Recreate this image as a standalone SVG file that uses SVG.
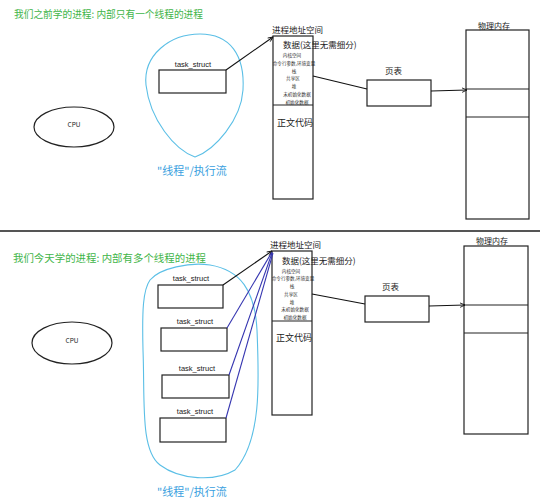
<svg xmlns="http://www.w3.org/2000/svg" width="540" height="500" viewBox="0 0 540 500">
<defs>
<style>
.box{fill:#fff;stroke:#222;stroke-width:1.2}
.ln{fill:none;stroke:#111;stroke-width:1.1}
.bl{fill:none;stroke:#3535b0;stroke-width:1.1}
.blob{fill:none;stroke:#5bbfe6;stroke-width:1.1}
.t{font-family:"Noto Sans CJK SC","Liberation Sans",sans-serif;fill:#222}
.title{font-family:"Noto Sans CJK SC",sans-serif;font-size:10.2px;fill:#3fb549}
.th{font-family:"Noto Sans CJK SC",sans-serif;font-size:11px;fill:#3a9fe0}
.ts{font-family:"Liberation Sans","Noto Sans CJK SC",sans-serif;font-size:7.5px;fill:#222;text-anchor:middle}
.sm{font-family:"Noto Sans CJK SC",sans-serif;font-size:4.6px;fill:#333;text-anchor:middle}
</style>
<marker id="ah" viewBox="0 0 10 10" refX="10" refY="5" markerWidth="5.5" markerHeight="5.5" orient="auto" markerUnits="userSpaceOnUse">
<polyline points="1,1 10,5 1,9" fill="none" stroke="#111" stroke-width="1.6"/>
</marker>
</defs>
<rect width="540" height="500" fill="#fff"/>

<!-- Top half -->
<g id="top-title"><text class="title" x="14" y="18" textLength="189" lengthAdjust="spacingAndGlyphs">我们之前学的进程: 内部只有一个线程的进程</text></g>
<g id="top-cpu"><ellipse cx="74" cy="127" rx="40" ry="20" fill="none" stroke="#222" stroke-width="1.2"/><text class="t" x="74" y="127" font-size="6.5" text-anchor="middle">CPU</text></g>
<g id="top-thread">
<path class="blob" d="M 200 34 C 230 34 245 55 243 90 C 241 120 215 150 195 157 C 175 150 150 120 146 85 C 143 55 170 34 200 34 Z"/>
<text class="th" x="157" y="175">"线程"/执行流</text>
</g>
<g id="top-task"><rect class="box" x="159" y="70" width="67" height="23"/><text class="ts" x="193" y="67">task_struct</text></g>
<g id="top-as">
<text class="t" x="272" y="33" font-size="8.5">进程地址空间</text>
<rect class="box" x="273" y="36" width="40" height="163"/>
<line x1="273" y1="105" x2="313" y2="105" stroke="#222" stroke-width="1.2"/>
<text class="t" x="283" y="48" font-size="8.5">数据(这里无需细分)</text>
<text class="sm" x="292" y="57">内核空间</text>
<text class="sm" x="294" y="65">命令行参数,环境变量</text>
<text class="sm" x="294" y="73">栈</text>
<text class="sm" x="293" y="80">共享区</text>
<text class="sm" x="294" y="88">堆</text>
<text class="sm" x="297" y="96">未初始化数据</text>
<text class="sm" x="297" y="104">初始化数据</text>
<text class="t" x="277" y="126" font-size="9">正文代码</text>
</g>
<g id="top-pt"><rect class="box" x="367" y="80" width="64" height="26"/><text class="t" x="385" y="74" font-size="8.5">页表</text></g>
<g id="top-mem">
<rect class="box" x="466" y="30" width="63" height="189"/>
<line x1="466" y1="89" x2="529" y2="89" stroke="#222" stroke-width="1.2"/>
<line x1="466" y1="117" x2="529" y2="117" stroke="#222" stroke-width="1.2"/>
<text class="t" x="478" y="29" font-size="8">物理内存</text>
</g>

<g id="separator"><line x1="0" y1="231" x2="540" y2="231" stroke="#555" stroke-width="2"/></g>

<!-- Bottom half -->
<g id="bot-title"><text class="title" x="13" y="262" textLength="193" lengthAdjust="spacingAndGlyphs">我们今天学的进程: 内部有多个线程的进程</text></g>
<g id="bot-cpu"><ellipse cx="72" cy="343" rx="40" ry="21" fill="none" stroke="#222" stroke-width="1.2"/><text class="t" x="72" y="343" font-size="6.5" text-anchor="middle">CPU</text></g>
<g id="bot-thread">
<path class="blob" d="M 150 280 C 160 268 190 262 210 265 C 240 270 255 290 257 330 C 259 380 262 440 235 470 C 215 482 180 480 160 465 C 140 450 145 400 143 350 C 142 310 143 290 150 280 Z"/>
<text class="th" x="157" y="496">"线程"/执行流</text>
</g>
<g id="bot-task1"><rect class="box" x="158" y="285" width="65" height="23"/><text class="ts" x="191" y="281">task_struct</text></g>
<g id="bot-task2"><rect class="box" x="161" y="328" width="66" height="23"/><text class="ts" x="195" y="324">task_struct</text></g>
<g id="bot-task3"><rect class="box" x="162" y="375" width="67" height="23"/><text class="ts" x="197" y="371">task_struct</text></g>
<g id="bot-task4"><rect class="box" x="160" y="418" width="66" height="24"/><text class="ts" x="195" y="414">task_struct</text></g>
<g id="bot-as">
<text class="t" x="270" y="248" font-size="8.5">进程地址空间</text>
<rect class="box" x="272" y="251" width="40" height="164"/>
<line x1="272" y1="321" x2="312" y2="321" stroke="#222" stroke-width="1.2"/>
<text class="t" x="282" y="264" font-size="8.5">数据(这里无需细分)</text>
<text class="sm" x="291" y="273">内核空间</text>
<text class="sm" x="293" y="280">命令行参数,环境变量</text>
<text class="sm" x="292" y="288">栈</text>
<text class="sm" x="291" y="296">共享区</text>
<text class="sm" x="292" y="304">堆</text>
<text class="sm" x="295" y="311">未初始化数据</text>
<text class="sm" x="295" y="319">初始化数据</text>
<text class="t" x="276" y="341" font-size="9">正文代码</text>
</g>
<g id="bot-pt"><rect class="box" x="365" y="296" width="64" height="26"/><text class="t" x="382" y="290" font-size="8.5">页表</text></g>
<g id="bot-mem">
<rect class="box" x="464" y="246" width="64" height="188"/>
<line x1="464" y1="305" x2="528" y2="305" stroke="#222" stroke-width="1.2"/>
<line x1="464" y1="333" x2="528" y2="333" stroke="#222" stroke-width="1.2"/>
<text class="t" x="476" y="244" font-size="8">物理内存</text>
</g>

<g id="connectors">
<line class="ln" x1="226" y1="70" x2="273" y2="37" marker-end="url(#ah)"/>
<line class="ln" x1="313" y1="76" x2="367" y2="89"/>
<line class="ln" x1="431" y1="91" x2="467" y2="90" marker-end="url(#ah)"/>
<line class="ln" x1="223" y1="285" x2="272" y2="251" marker-end="url(#ah)"/>
<line class="bl" x1="227" y1="328" x2="272" y2="252"/>
<line class="bl" x1="229" y1="375" x2="272" y2="253"/>
<line class="bl" x1="226" y1="418" x2="273" y2="253"/>
<line class="ln" x1="312" y1="294" x2="365" y2="304"/>
<line class="ln" x1="429" y1="306" x2="465" y2="305" marker-end="url(#ah)"/>
</g>
</svg>
